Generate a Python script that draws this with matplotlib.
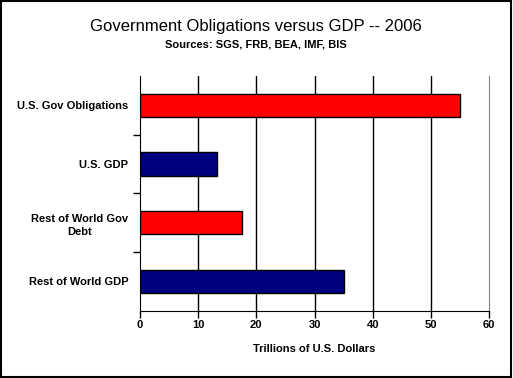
import matplotlib
matplotlib.use("Agg")
import matplotlib.pyplot as plt
from matplotlib.patches import Rectangle

categories = ["U.S. Gov Obligations", "U.S. GDP", "Rest of World Gov\nDebt", "Rest of World GDP"]
values = [55.0, 13.3, 17.6, 35.0]
colors = ["#FF0000", "#000080", "#FF0000", "#000080"]
xticks = [0, 10, 20, 30, 40, 50, 60]

plt.rcParams['font.family'] = ['Liberation Sans', 'DejaVu Sans']

fig = plt.figure(figsize=(5.13, 3.78), dpi=100)
ax = fig.add_axes([140/513, 1-310.7/378, 349/513, (310.7-76)/378])

ypos = list(range(len(categories)))[::-1]
ax.barh(ypos, values, height=0.4, color=colors, edgecolor='black', linewidth=1, zorder=3)

ax.set_xlim(0, 60)
ax.set_ylim(-0.5, 3.5)
ax.set_xticks(xticks)
ax.set_xticklabels([str(t) for t in xticks], fontsize=8, fontweight='bold')
ax.set_yticks(ypos)
ax.set_yticklabels(categories, fontsize=8, fontweight='bold')
ax.tick_params(axis='y', which='major', length=0, pad=8.5)
ax.set_yticks([0.5, 1.5, 2.5], minor=True)
ax.tick_params(axis='y', which='minor', length=5, direction='out', width=1, color='black')
ax.tick_params(axis='x', length=5, direction='out', width=1, pad=2)
for lbl in ax.get_yticklabels():
    lbl.set_horizontalalignment('right')
    lbl.set_multialignment('center')
    lbl.set_linespacing(1.45)

for t in xticks[1:-1]:
    ax.axvline(t, color='black', linewidth=1, zorder=1)

ax.spines['top'].set_visible(False)
ax.spines['right'].set_color('#808080')
ax.spines['left'].set_color('black')
ax.spines['bottom'].set_color('black')

ax.set_xlabel("Trillions of U.S. Dollars", fontsize=8, fontweight='bold', labelpad=10)

fig.text(256/513, 1-26/378, "Government Obligations versus GDP -- 2006", fontsize=12, ha='center', va='center')
fig.text(256/513, 1-44.5/378, "Sources: SGS, FRB, BEA, IMF, BIS", fontsize=8, fontweight='bold', ha='center', va='center')

fig.patches.append(Rectangle((0.001, 0.002), 0.996, 0.995, transform=fig.transFigure, fill=False, edgecolor='black', linewidth=1.5))

fig.savefig("out.png", dpi=100)
